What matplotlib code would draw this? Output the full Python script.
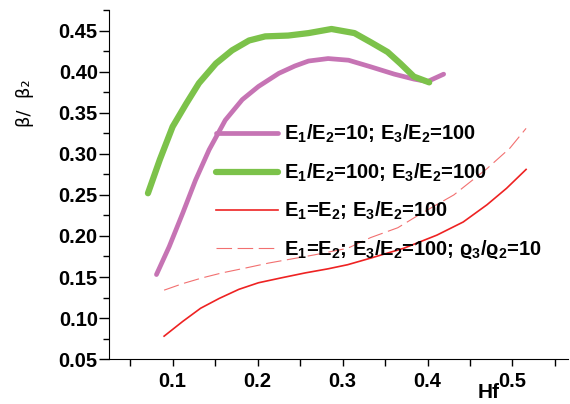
import numpy as np
import matplotlib
matplotlib.use('Agg')
import matplotlib.pyplot as plt
from matplotlib.ticker import MultipleLocator, FormatStrFormatter

plt.rcParams['font.family'] = ['Liberation Sans', 'DejaVu Sans']
plt.rcParams['mathtext.fontset'] = 'custom'
plt.rcParams['mathtext.rm'] = 'Liberation Sans:bold'
plt.rcParams['mathtext.it'] = 'Liberation Sans:bold'
plt.rcParams['mathtext.bf'] = 'Liberation Sans:bold'

# data
hf_magenta = [0.081, 0.096, 0.112, 0.127, 0.143, 0.162, 0.182, 0.201, 0.225, 0.244,
              0.260, 0.283, 0.307, 0.333, 0.361, 0.384, 0.400, 0.419]
b_magenta = [0.153, 0.187, 0.228, 0.268, 0.305, 0.341, 0.366, 0.382, 0.398, 0.407,
             0.413, 0.416, 0.414, 0.406, 0.397, 0.391, 0.388, 0.397]

hf_green = [0.071, 0.085, 0.100, 0.116, 0.131, 0.151, 0.170, 0.190, 0.209, 0.236,
            0.260, 0.287, 0.314, 0.333, 0.353, 0.368, 0.384, 0.402]
b_green = [0.252, 0.293, 0.333, 0.361, 0.386, 0.410, 0.426, 0.438, 0.443, 0.444,
           0.447, 0.452, 0.447, 0.436, 0.424, 0.410, 0.394, 0.387]

hf_red = [0.090, 0.112, 0.133, 0.155, 0.178, 0.201, 0.228, 0.256, 0.283, 0.306,
          0.333, 0.372, 0.411, 0.442, 0.470, 0.493, 0.516]
b_red = [0.078, 0.096, 0.112, 0.124, 0.135, 0.143, 0.149, 0.155, 0.160, 0.165,
         0.173, 0.185, 0.201, 0.217, 0.238, 0.258, 0.281]

hf_dash = [0.090, 0.112, 0.135, 0.158, 0.186, 0.213, 0.240, 0.267, 0.306, 0.333,
           0.365, 0.392, 0.431, 0.470, 0.497, 0.516]
b_dash = [0.134, 0.142, 0.149, 0.155, 0.161, 0.167, 0.172, 0.177, 0.185, 0.198,
          0.210, 0.227, 0.250, 0.282, 0.307, 0.331]

labels = [
    'E$_1$/E$_2$=10; E$_3$/E$_2$=100',
    'E$_1$/E$_2$=100; E$_3$/E$_2$=100',
    'E$_1$=E$_2$; E$_3$/E$_2$=100',
    r'E$_1$=E$_2$; E$_3$/E$_2$=100; ϱ$_3$/ϱ$_2$=10',
]

fig = plt.figure(figsize=(5.7, 4.04), dpi=100)
ax = fig.add_axes([0.191, 0.111, 0.805, 0.864])

ax.plot(hf_magenta, b_magenta, color='#c674b4', lw=3.4, solid_capstyle='round',
        solid_joinstyle='round', label=labels[0])
ax.plot(hf_green, b_green, color='#7cc24a', lw=4.5, solid_capstyle='round',
        solid_joinstyle='round', label=labels[1])
ax.plot(hf_red, b_red, color='#ee2222', lw=1.2, label=labels[2])
ax.plot(hf_dash, b_dash, color='#f27070', lw=0.8, ls=(0, (14, 5)), label=labels[3])

ax.set_xlim(0.025, 0.565)
ax.set_ylim(0.05, 0.475)
ax.xaxis.set_major_locator(MultipleLocator(0.1))
ax.xaxis.set_minor_locator(MultipleLocator(0.05))
ax.yaxis.set_major_locator(MultipleLocator(0.05))
ax.yaxis.set_minor_locator(MultipleLocator(0.025))
ax.xaxis.set_major_formatter(FormatStrFormatter('%.1f'))
ax.yaxis.set_major_formatter(FormatStrFormatter('%.2f'))

ax.spines['top'].set_visible(False)
ax.spines['right'].set_visible(False)
ax.tick_params(axis='y', which='major', direction='out', length=7, width=1, pad=1)
ax.tick_params(axis='y', which='minor', direction='out', length=4, width=1)
ax.tick_params(axis='x', which='both', direction='out', length=5, width=1, pad=4)
for lab in ax.get_xticklabels() + ax.get_yticklabels():
    lab.set_fontsize(14.5)
    lab.set_fontweight('bold')

leg = ax.legend(loc='upper left', bbox_to_anchor=(0.193, 0.728), frameon=False,
                handlelength=3.1, handletextpad=0.3, labelspacing=0.8,
                prop={'weight': 'bold', 'size': 14.5})

fig.text(489 / 570, 1 - 393 / 404, 'Hf', ha='center', va='center',
         fontsize=15, fontweight='bold')
fig.text(25 / 570, 1 - 103 / 404, 'β/  β₂', ha='center', va='center',
         rotation=90, fontsize=13, family=['DejaVu Sans'])

fig.savefig('out.png', dpi=100)
